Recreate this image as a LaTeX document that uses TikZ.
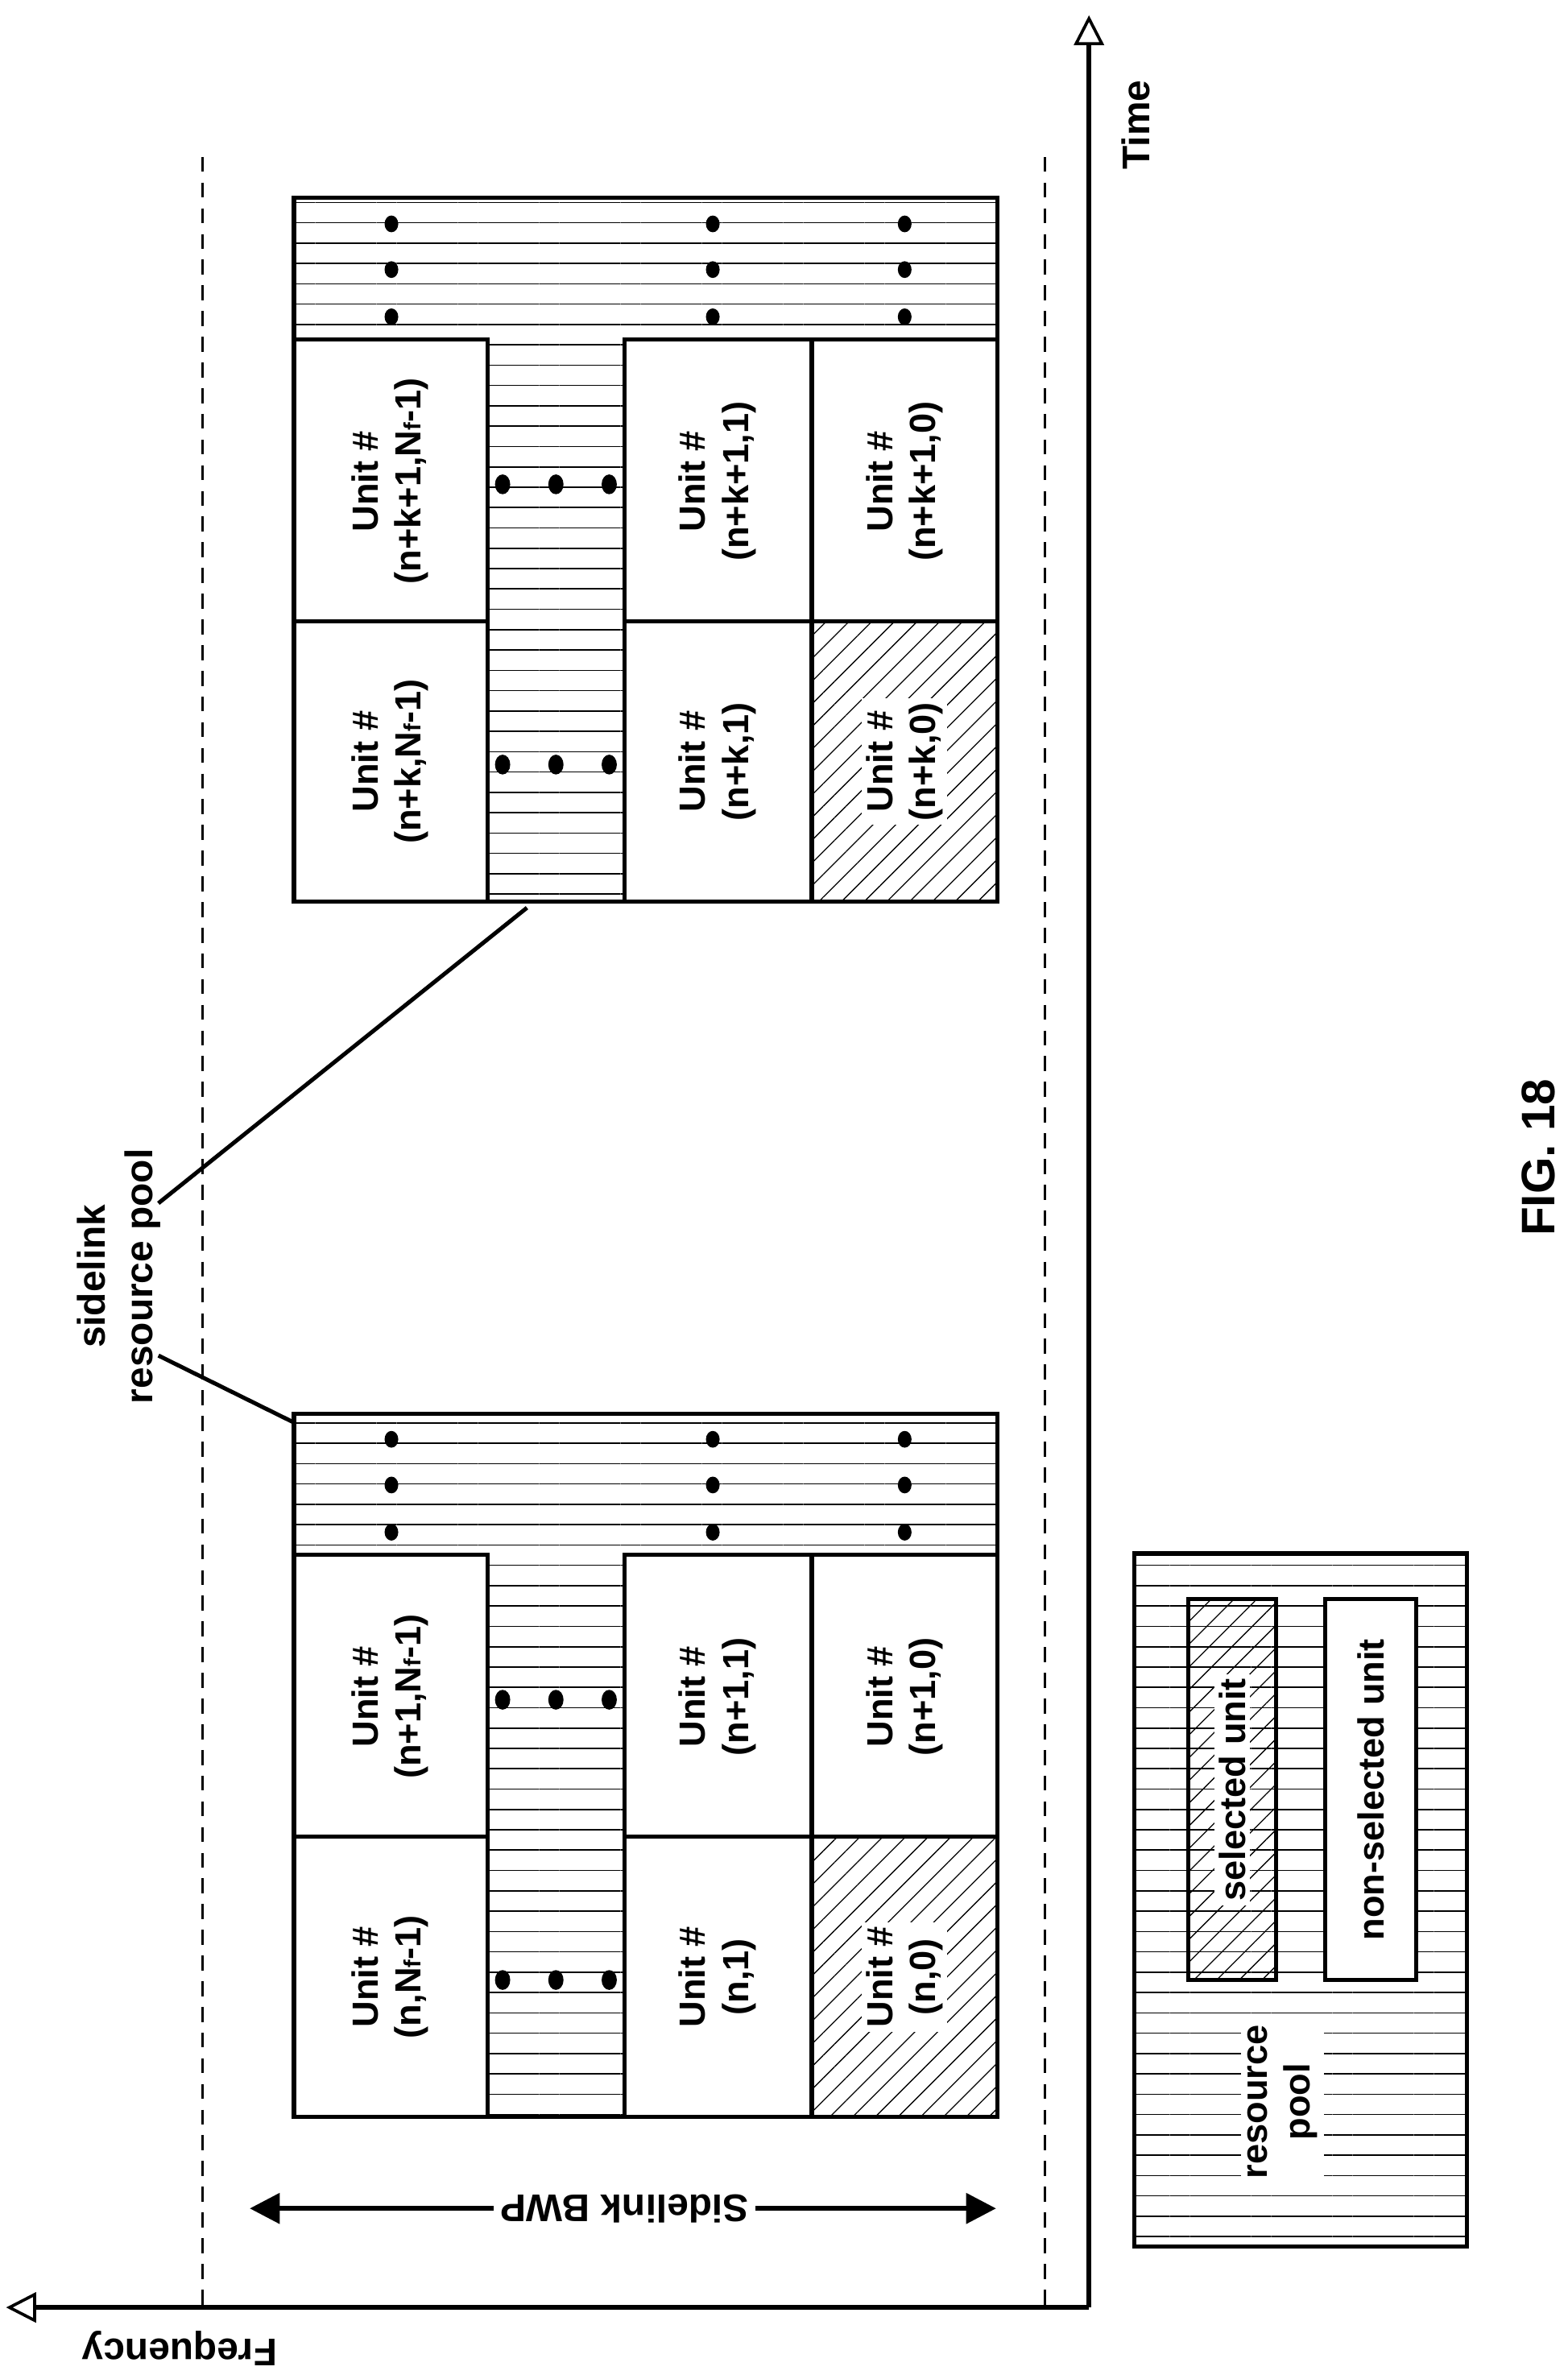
\documentclass[tikz,border=0pt]{standalone}
\usepackage{fontspec}
\setmainfont{Liberation Sans}
\usetikzlibrary{patterns.meta,arrows.meta}
\tikzset{
  pool/.style={pattern={Lines[angle=0,distance=9.5pt,line width=0.6pt]}},
  sel/.style={pattern={Lines[angle=45,distance=7.5pt,line width=0.5pt]}},
  box/.style={line width=1.9pt},
  lbl/.style={font=\bfseries\fontsize{17}{20}\selectfont,align=center,rotate=90},
  dot/.style={fill=black},
}
\begin{document}
\begin{tikzpicture}[x=0.25mm,y=-0.25mm]
  \useasboundingbox (0,0) rectangle (1029,1562);
    % axes
    \coordinate (O) at (715,1515);
    \coordinate (T) at (715,10);
    \coordinate (F) at (4,1515);
    \draw[line width=2.2pt,-{Triangle[open,length=14pt,width=14pt,line width=1.4pt]}](O)--(T);
    \draw[line width=2.2pt,-{Triangle[open,length=14pt,width=14pt,line width=1.4pt]}](O)--(F);
    \node[lbl,font=\bfseries\fontsize{18}{21}\selectfont] (time) at (746,82){Time};
    \node[font=\bfseries\fontsize{18}{21}\selectfont,rotate=180] (freq) at (118,1542){Frequency};
    \draw[dashed,line width=1.2pt,dash pattern=on 7pt off 5pt](133,103)--(133,1515);
    \draw[dashed,line width=1.2pt,dash pattern=on 7pt off 5pt](686,103)--(686,1515);
    % sidelink BWP
    \coordinate (bwpL) at (164,1450);
    \coordinate (bwpR) at (654,1450);
    \node[font=\bfseries\fontsize{18}{21}\selectfont,rotate=180,fill=white,inner sep=3pt] (bwp) at (410,1450){Sidelink BWP};
    \draw[line width=2.2pt,-{Triangle[length=14pt,width=14pt]}](bwp.west)--(bwpR);
    \draw[line width=2.2pt,-{Triangle[length=14pt,width=14pt]}](bwp.east)--(bwpL);
    % pool blocks
    \foreach \T/\a/\b/\k in {130/n+k+1/n+k/2, 928/n+1/n/1}{
      \fill[pool](193,\T) rectangle (655,\T+462);
      \fill[white](193,\T+93) rectangle (320,\T+462);
      \fill[white](410,\T+93) rectangle (655,\T+462);
      \fill[sel](533,\T+278) rectangle (655,\T+462);
      \draw[box](193,\T) rectangle (655,\T+462);
      \draw[box](193,\T+93)--(320,\T+93)--(320,\T+462);
      \draw[box](655,\T+93)--(410,\T+93)--(410,\T+462);
      \draw[box](193,\T+278)--(320,\T+278);
      \draw[box](410,\T+278)--(655,\T+278);
      \draw[box](533,\T+93)--(533,\T+462);
      \node[lbl] (u\k-a) at (256,\T+186){Unit \#\\(\a,N{\fontsize{11}{11}\selectfont f}-1)};
      \node[lbl] (u\k-b) at (256,\T+370){Unit \#\\(\b,N{\fontsize{11}{11}\selectfont f}-1)};
      \node[lbl] (v\k-a) at (471,\T+186){Unit \#\\(\a,1)};
      \node[lbl] (v\k-b) at (471,\T+370){Unit \#\\(\b,1)};
      \node[lbl] (w\k-a) at (594,\T+186){Unit \#\\(\a,0)};
      \node[lbl,fill=white,inner sep=2pt] (w\k-b) at (594,\T+370){Unit \#\\(\b,0)};
      \foreach \y in {17,47,78}{
        \foreach \x in {257,468,594}{\fill[dot](\x,\T+\y) ellipse (4.5 and 5.5);}
      }
      \foreach \y in {188,372}{
        \foreach \x in {330,365,400}{\fill[dot](\x,\T+\y) ellipse (5 and 6.5);}
      }
    }
    % sidelink resource pool label
    \node[lbl,font=\bfseries\fontsize{18}{22}\selectfont] (srp) at (78,838){sidelink\\resource pool};
    \coordinate (c1) at (193,934);
    \coordinate (c2) at (346,596);
    \draw[line width=1.9pt](104,890)--(c1);
    \draw[line width=1.9pt](104,790)--(c2);
    \node[lbl,font=\bfseries\fontsize{22}{26}\selectfont] (fig) at (1010,760){FIG. 18};
    % legend
    \fill[pool](745,1020) rectangle (963,1475);
    \draw[box](745,1020) rectangle (963,1475);
    \fill[sel](780,1050) rectangle (838,1300);
    \draw[box](780,1050) rectangle (838,1300);
    \fill[white](870,1050) rectangle (930,1300);
    \draw[box](870,1050) rectangle (930,1300);
    \node[lbl,fill=white,inner sep=2pt] (lsel) at (809,1175){selected unit};
    \node[lbl] (lnon) at (900,1175){non-selected unit};
    \node[lbl,fill=white,inner sep=3pt] (lpool) at (842,1380){resource\\pool};
\end{tikzpicture}
\end{document}
